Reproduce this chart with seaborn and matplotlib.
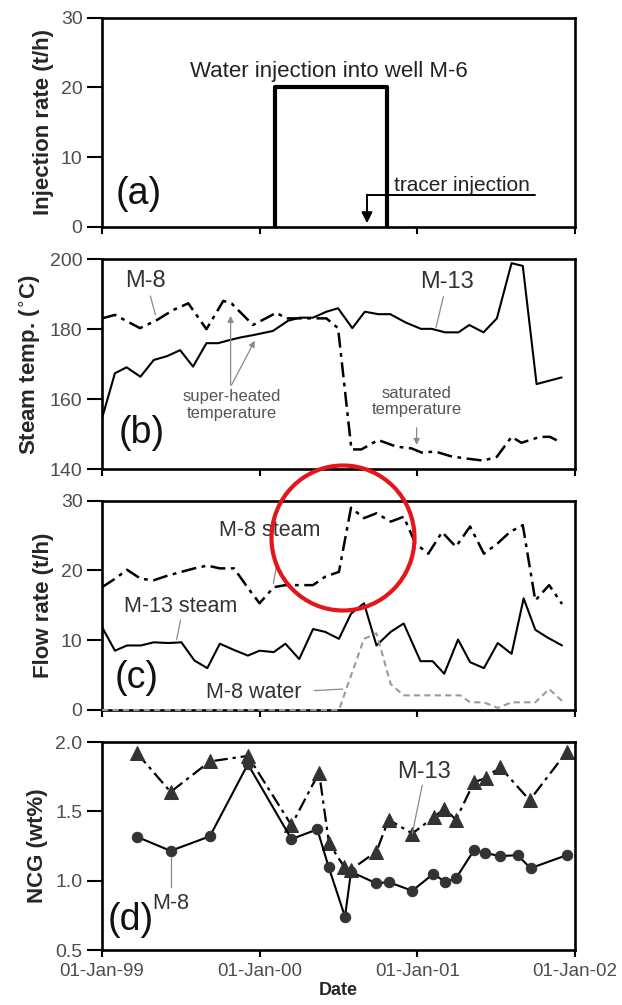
import numpy as np
import pandas as pd
import matplotlib
matplotlib.use("Agg")
import matplotlib.pyplot as plt
import matplotlib.dates as mdates
from matplotlib.patches import Ellipse
import seaborn as sns

# ---------------- data ----------------
# (a) water injection into M-6
inj_dates = ["2000-02-05", "2000-02-05", "2000-10-23", "2000-10-23"]
inj_rate = [0, 20, 20, 0]
tracer_date = "2000-09-06"
tracer_line_end = "2001-10-01"

# (b) steam temperature
m13_temp_dates = ["1999-01-01", "1999-01-31", "1999-02-27", "1999-03-31", "1999-05-01", "1999-06-01",
                  "1999-07-01", "1999-07-31", "1999-08-31", "1999-09-27", "1999-10-24", "1999-11-20",
                  "1999-12-17", "2000-02-01", "2000-03-07", "2000-04-03", "2000-05-04", "2000-06-04",
                  "2000-07-01", "2000-08-03", "2000-09-01", "2000-10-02", "2000-10-30", "2000-12-05",
                  "2001-01-09", "2001-02-03", "2001-03-06", "2001-04-06", "2001-05-01", "2001-06-03",
                  "2001-07-04", "2001-08-07", "2001-09-02", "2001-10-04", "2001-12-01"]
m13_temp = [154.5, 167.4, 169.1, 166.4, 171.2, 172.3, 174.0, 169.3, 176.0, 176.0, 176.9, 177.7,
            178.3, 179.5, 182.4, 183.3, 183.3, 185.0, 186.0, 180.3, 185.0, 184.3, 184.3, 181.9,
            180.1, 180.1, 179.1, 179.1, 181.2, 179.1, 183.1, 198.9, 198.1, 164.3, 166.2]

m8_temp_dates = ["1999-01-01", "1999-01-31", "1999-03-30", "1999-05-08", "1999-06-15", "1999-07-20",
                 "1999-08-31", "1999-10-09", "1999-10-28", "1999-12-17", "2000-02-09", "2000-03-03",
                 "2000-05-04", "2000-06-04", "2000-07-01", "2000-08-01", "2000-08-24", "2000-10-02",
                 "2000-11-13", "2000-12-18", "2001-01-11", "2001-02-11", "2001-03-18", "2001-04-17",
                 "2001-06-03", "2001-07-04", "2001-08-07", "2001-08-30", "2001-10-12", "2001-11-04",
                 "2001-12-01"]
m8_temp = [183.1, 184.1, 180.3, 182.6, 185.5, 187.4, 180.0, 188.1, 187.4, 181.2, 184.7, 183.1,
           183.1, 183.1, 180.3, 145.6, 145.6, 148.3, 146.4, 145.9, 144.7, 145.0, 143.7, 143.1,
           142.4, 143.5, 149.2, 147.5, 149.2, 149.2, 147.5]

# (c) flow rates
m13_flow_dates = ["1999-01-01", "1999-01-31", "1999-02-28", "1999-04-01", "1999-05-01", "1999-06-04",
                  "1999-07-04", "1999-08-03", "1999-09-02", "1999-10-01", "1999-11-03", "1999-12-05",
                  "2000-01-01", "2000-02-03", "2000-03-01", "2000-04-02", "2000-05-04", "2000-06-01",
                  "2000-07-03", "2000-07-31", "2000-08-30", "2000-09-28", "2000-10-31", "2000-11-30",
                  "2001-01-08", "2001-02-05", "2001-03-04", "2001-04-05", "2001-05-03", "2001-06-04",
                  "2001-07-06", "2001-08-07", "2001-09-04", "2001-10-01", "2001-10-29", "2001-12-02"]
m13_steam = [11.9, 8.5, 9.25, 9.25, 9.7, 9.6, 9.7, 7.1, 6.0, 9.5, 8.6, 7.8,
             8.5, 8.3, 9.5, 7.3, 11.6, 11.2, 10.2, 13.8, 15.3, 9.25, 11.2, 12.4,
             7.0, 7.0, 5.2, 10.1, 6.85, 6.0, 9.6, 8.05, 16.0, 11.5, 10.4, 9.25]

m8_steam_dates = ["1999-01-01", "1999-01-31", "1999-02-28", "1999-04-01", "1999-05-01", "1999-06-04",
                  "1999-07-04", "1999-08-03", "1999-09-02", "1999-10-01", "1999-11-03", "1999-12-05",
                  "2000-01-01", "2000-02-03", "2000-03-01", "2000-04-02", "2000-05-04", "2000-06-01",
                  "2000-07-03", "2000-07-31", "2000-08-30", "2000-09-28", "2000-10-31", "2000-11-30",
                  "2000-12-27", "2001-01-26", "2001-02-27", "2001-03-31", "2001-05-03", "2001-06-04",
                  "2001-07-06", "2001-08-03", "2001-09-02", "2001-10-01", "2001-11-02", "2001-12-02"]
m8_steam = [17.6, 18.8, 20.1, 18.8, 18.6, 19.3, 19.8, 20.3, 20.7, 20.3, 20.3, 17.5,
            15.3, 17.6, 17.9, 17.9, 17.9, 19.1, 19.8, 29.0, 27.5, 28.2, 27.0, 27.7,
            23.9, 22.4, 25.5, 23.4, 26.3, 22.4, 23.9, 25.5, 26.5, 15.7, 17.9, 15.2]

m8_water_dates = ["1999-01-01", "2000-07-03", "2000-08-30", "2000-09-28", "2000-10-31", "2000-11-30",
                  "2001-01-08", "2001-02-27", "2001-04-10", "2001-05-03", "2001-06-04", "2001-07-06",
                  "2001-08-07", "2001-09-04", "2001-10-01", "2001-11-02", "2001-12-02"]
m8_water = [0, 0, 10.2, 11.0, 3.7, 2.1, 2.1, 2.1, 2.1, 1.1, 1.1, 0.3, 1.1, 1.1, 1.1, 3.0, 1.3]

# (d) NCG
m13_ncg_dates = ["1999-03-23", "1999-06-09", "1999-09-08", "1999-12-05", "2000-03-15", "2000-05-18",
                 "2000-06-10", "2000-07-15", "2000-07-31", "2000-09-28", "2000-10-26", "2000-12-20",
                 "2001-02-09", "2001-03-04", "2001-03-31", "2001-05-12", "2001-06-08", "2001-07-11",
                 "2001-09-18", "2001-12-13"]
m13_ncg = [1.92, 1.64, 1.86, 1.90, 1.40, 1.78, 1.27, 1.10, 1.08, 1.21, 1.44, 1.34,
           1.46, 1.52, 1.44, 1.71, 1.74, 1.82, 1.58, 1.93]

m8_ncg_dates = ["1999-03-23", "1999-06-09", "1999-09-08", "1999-12-05", "2000-03-15", "2000-05-14",
                "2000-06-09", "2000-07-17", "2000-07-31", "2000-09-28", "2000-10-26", "2000-12-20",
                "2001-02-07", "2001-03-06", "2001-03-31", "2001-05-12", "2001-06-06", "2001-07-12",
                "2001-08-21", "2001-09-20", "2001-12-13"]
m8_ncg = [1.316, 1.215, 1.32, 1.84, 1.30, 1.37, 1.10, 0.74, 1.064, 0.98, 0.99, 0.927,
          1.05, 0.99, 1.016, 1.22, 1.20, 1.177, 1.184, 1.09, 1.184]

year_ticks = ["1999-01-01", "2000-01-01", "2001-01-01", "2002-01-01"]

# ---------------- style ----------------
sns.set_style("ticks")
plt.rcParams['font.family'] = ['Liberation Sans', 'DejaVu Sans']

def D(s):
    return mdates.date2num(pd.Timestamp(s))

fig = plt.figure(figsize=(6.22, 10.05), dpi=100)
FW, FH = 622.0, 1005.0
L, W = 102 / FW, 473 / FW

def add(top, bottom):
    return fig.add_axes([L, 1 - bottom / FH, W, (bottom - top) / FH])

axa = add(17.7, 226.7)
axb = add(259.3, 469.0)
axc = add(500.7, 710.0)
axd = add(742.0, 950.0)

tick_col = '#4d4d4d'
ann_col = '#333333'
lead_col = '#8a8a8a'
DASHDOT = (0, (6, 2.2, 1.5, 2.2))

def style(ax, ylim, yticks, ylabel, show_x=False):
    ax.set_xlim(D(year_ticks[0]), D(year_ticks[-1]))
    ax.set_ylim(*ylim)
    ax.set_yticks(yticks)
    ax.set_xticks([D(t) for t in year_ticks])
    ax.xaxis.set_major_formatter(mdates.DateFormatter("%d-%b-%y"))
    for s in ax.spines.values():
        s.set_linewidth(1.9)
        s.set_color('black')
        s.set_visible(True)
    ax.tick_params(axis='y', direction='out', length=11, width=1.5, color='black',
                   labelsize=14, labelcolor=tick_col, pad=3)
    ax.tick_params(axis='x', direction='out', length=5, width=1.5, color='black',
                   labelsize=13.5, labelcolor=tick_col, pad=4, labelbottom=show_x)
    ax.set_ylabel(ylabel, fontsize=16, fontweight='bold', labelpad=5)
    ax.set_xlabel("")
    ax.grid(False)

def panel_label(ax, s, x, y):
    ax.text(x, y, s, transform=ax.transAxes, fontsize=27, ha='center', va='center', color='#111111')

def leader(ax, d0, v0, d1, v1, arrow=False):
    if arrow:
        ax.annotate("", xy=(D(d1), v1), xytext=(D(d0), v0),
                    arrowprops=dict(arrowstyle='-|>', color=lead_col, lw=0.9,
                                    mutation_scale=9, shrinkA=0, shrinkB=0))
    else:
        ax.plot([D(d0), D(d1)], [v0, v1], color=lead_col, lw=0.9)

# ---------------- (a) ----------------
sns.lineplot(x=pd.to_datetime(inj_dates), y=inj_rate, ax=axa, color='black', lw=3.0,
             estimator=None, sort=False)
style(axa, (0, 30), [0, 10, 20, 30], "Injection rate (t/h)")
axa.text(D("2000-06-10"), 22.3, "Water injection into well M-6", fontsize=16, ha='center',
         va='center', color='#222222')
axa.plot([D(tracer_date), D(tracer_line_end)], [4.55, 4.55], color='black', lw=1.4)
axa.annotate("", xy=(D(tracer_date), 0.5), xytext=(D(tracer_date), 4.6),
             arrowprops=dict(arrowstyle='-|>', color='black', lw=1.4, mutation_scale=16,
                             shrinkA=0, shrinkB=0))
axa.text(D("2001-04-15"), 5.1, "tracer injection", fontsize=15, ha='center', va='baseline',
         color='#222222')
panel_label(axa, "(a)", 0.078, 0.155)

# ---------------- (b) ----------------
sns.lineplot(x=pd.to_datetime(m8_temp_dates), y=m8_temp, ax=axb, color='black', lw=1.8,
             linestyle=DASHDOT, estimator=None, sort=False)
sns.lineplot(x=pd.to_datetime(m13_temp_dates), y=m13_temp, ax=axb, color='black', lw=1.5,
             estimator=None, sort=False)
style(axb, (140, 200), [140, 160, 180, 200], "Steam temp. ($^{\\circ}$C)")
axb.text(D("1999-04-11"), 193.8, "M-8", fontsize=17, ha='center', va='center', color=ann_col)
leader(axb, "1999-04-23", 189.5, "1999-05-05", 184.1)
axb.text(D("2001-03-10"), 193.6, "M-13", fontsize=17, ha='center', va='center', color=ann_col)
leader(axb, "2001-03-02", 189.3, "2001-02-13", 180.5)
axb.text(D("1999-10-28"), 158.3, "super-heated\ntemperature", fontsize=12, ha='center',
         va='center', color='#555555', linespacing=1.15)
leader(axb, "1999-10-26", 164.0, "1999-10-26", 183.8, arrow=True)
leader(axb, "1999-10-28", 164.0, "1999-12-21", 176.7, arrow=True)
axb.text(D("2000-12-30"), 159.3, "saturated\ntemperature", fontsize=12, ha='center',
         va='center', color='#555555', linespacing=1.15)
leader(axb, "2000-12-30", 151.8, "2000-12-30", 146.9, arrow=True)
panel_label(axb, "(b)", 0.084, 0.17)

# ---------------- (c) ----------------
sns.lineplot(x=pd.to_datetime(m8_steam_dates), y=m8_steam, ax=axc, color='black', lw=1.8,
             linestyle=DASHDOT, estimator=None, sort=False)
sns.lineplot(x=pd.to_datetime(m13_flow_dates), y=m13_steam, ax=axc, color='black', lw=1.5,
             estimator=None, sort=False)
sns.lineplot(x=pd.to_datetime(m8_water_dates), y=m8_water, ax=axc, color='#9a9a9a', lw=1.5,
             linestyle=(0, (3, 2)), estimator=None, sort=False, zorder=4, clip_on=False)
style(axc, (0, 30), [0, 10, 20, 30], "Flow rate (t/h)")
axc.text(D("2000-01-24"), 25.8, "M-8 steam", fontsize=15.5, ha='center', va='center', color=ann_col)
leader(axc, "2000-02-11", 21.2, "2000-02-02", 18.1)
axc.text(D("1999-07-02"), 14.8, "M-13 steam", fontsize=15.5, ha='center', va='center', color=ann_col)
leader(axc, "1999-07-02", 12.9, "1999-06-23", 10.1)
axc.text(D("1999-12-18"), 2.5, "M-8 water", fontsize=15.5, ha='center', va='center', color=ann_col)
leader(axc, "2000-05-07", 2.78, "2000-07-12", 3.0)
panel_label(axc, "(c)", 0.074, 0.151)

# ---------------- (d) ----------------
sns.lineplot(x=pd.to_datetime(m13_ncg_dates), y=m13_ncg, ax=axd, color='black', lw=1.6,
             linestyle=DASHDOT, marker='^', markersize=10, markerfacecolor='#333333',
             markeredgecolor='#333333', estimator=None, sort=False)
sns.lineplot(x=pd.to_datetime(m8_ncg_dates), y=m8_ncg, ax=axd, color='black', lw=1.5,
             marker='o', markersize=7.5, markerfacecolor='#333333', markeredgecolor='#333333',
             estimator=None, sort=False)
style(axd, (0.5, 2.0), [0.5, 1.0, 1.5, 2.0], "NCG (wt%)", show_x=True)
axd.yaxis.set_major_formatter(matplotlib.ticker.FormatStrFormatter('%.1f'))
axd.set_xlabel("Date", fontsize=13, fontweight='bold', labelpad=2)
axd.text(D("2001-01-17"), 1.784, "M-13", fontsize=17, ha='center', va='center', color=ann_col)
leader(axd, "2001-01-12", 1.688, "2000-12-20", 1.34)
axd.text(D("1999-06-09"), 0.836, "M-8", fontsize=15.5, ha='center', va='center', color=ann_col)
leader(axd, "1999-06-09", 1.17, "1999-06-09", 0.955)
panel_label(axd, "(d)", 0.061, 0.144)

# ---------------- red highlight ----------------
fig.add_artist(Ellipse((343 / FW, 1 - 538 / FH), 143 / FW, 145 / FH, transform=fig.transFigure,
                       fill=False, edgecolor='#e3161c', lw=3.0, zorder=20))

fig.savefig("out.png", dpi=100)
